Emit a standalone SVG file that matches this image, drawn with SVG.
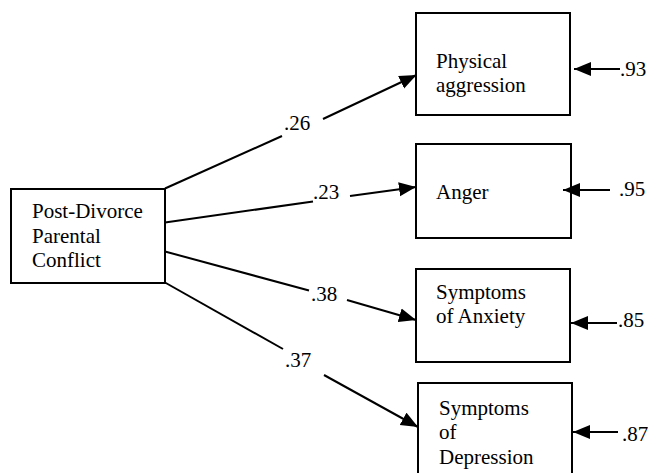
<svg xmlns="http://www.w3.org/2000/svg" width="648" height="473" viewBox="0 0 648 473">
<style>
.box{fill:#fff;stroke:#000;stroke-width:2}
.t{font-family:"Liberation Serif","Times New Roman",serif;font-size:21px;fill:#000}
.c{stroke:#000;stroke-width:2;fill:none}
</style>
<defs>
<marker id="ah" markerUnits="userSpaceOnUse" markerWidth="18" markerHeight="16" refX="17" refY="7.5" orient="auto">
<path d="M0,0.5 L17,7.5 L0,14.5 z" fill="#000"/>
</marker>
</defs>
<rect width="648" height="473" fill="#fff"/>
<g id="source">
<rect class="box" x="11" y="189" width="154" height="94"/>
<text class="t" x="32" y="218">Post-Divorce</text>
<text class="t" x="32" y="243">Parental</text>
<text class="t" x="32" y="267">Conflict</text>
</g>
<g id="physical">
<rect class="box" x="416" y="13" width="154" height="102"/>
<text class="t" x="436" y="68">Physical</text>
<text class="t" x="436" y="92">aggression</text>
</g>
<g id="anger">
<rect class="box" x="416" y="144" width="155" height="94"/>
<text class="t" x="436" y="199">Anger</text>
</g>
<g id="anxiety">
<rect class="box" x="416" y="269" width="154" height="93"/>
<text class="t" x="436" y="299">Symptoms</text>
<text class="t" x="436" y="323">of Anxiety</text>
</g>
<g id="depression">
<rect class="box" x="418" y="383" width="154" height="100"/>
<text class="t" x="439" y="415">Symptoms</text>
<text class="t" x="439" y="439">of</text>
<text class="t" x="439" y="464">Depression</text>
</g>
<g id="connectors">
<line class="c" x1="165" y1="188.5" x2="282" y2="136"/>
<line class="c" x1="323" y1="119" x2="416.5" y2="75" marker-end="url(#ah)"/>
<line class="c" x1="165" y1="222.5" x2="313" y2="201.5"/>
<line class="c" x1="350" y1="196" x2="416" y2="187" marker-end="url(#ah)"/>
<line class="c" x1="165" y1="251.5" x2="309" y2="290.5"/>
<line class="c" x1="347" y1="300" x2="416" y2="320" marker-end="url(#ah)"/>
<line class="c" x1="165" y1="282.5" x2="283" y2="349"/>
<line class="c" x1="324" y1="375" x2="418" y2="427" marker-end="url(#ah)"/>
<line class="c" x1="620" y1="69" x2="574" y2="69" marker-end="url(#ah)"/>
<line class="c" x1="610" y1="190" x2="563" y2="190" marker-end="url(#ah)"/>
<line class="c" x1="617" y1="323" x2="571" y2="323" marker-end="url(#ah)"/>
<line class="c" x1="618" y1="432" x2="573" y2="432" marker-end="url(#ah)"/>
</g>
<g id="labels">
<text class="t" x="284" y="130">.26</text>
<text class="t" x="313" y="199">.23</text>
<text class="t" x="311" y="301">.38</text>
<text class="t" x="285" y="367">.37</text>
<text class="t" x="620" y="76">.93</text>
<text class="t" x="619" y="196">.95</text>
<text class="t" x="618" y="327">.85</text>
<text class="t" x="622" y="441">.87</text>
</g>
</svg>
